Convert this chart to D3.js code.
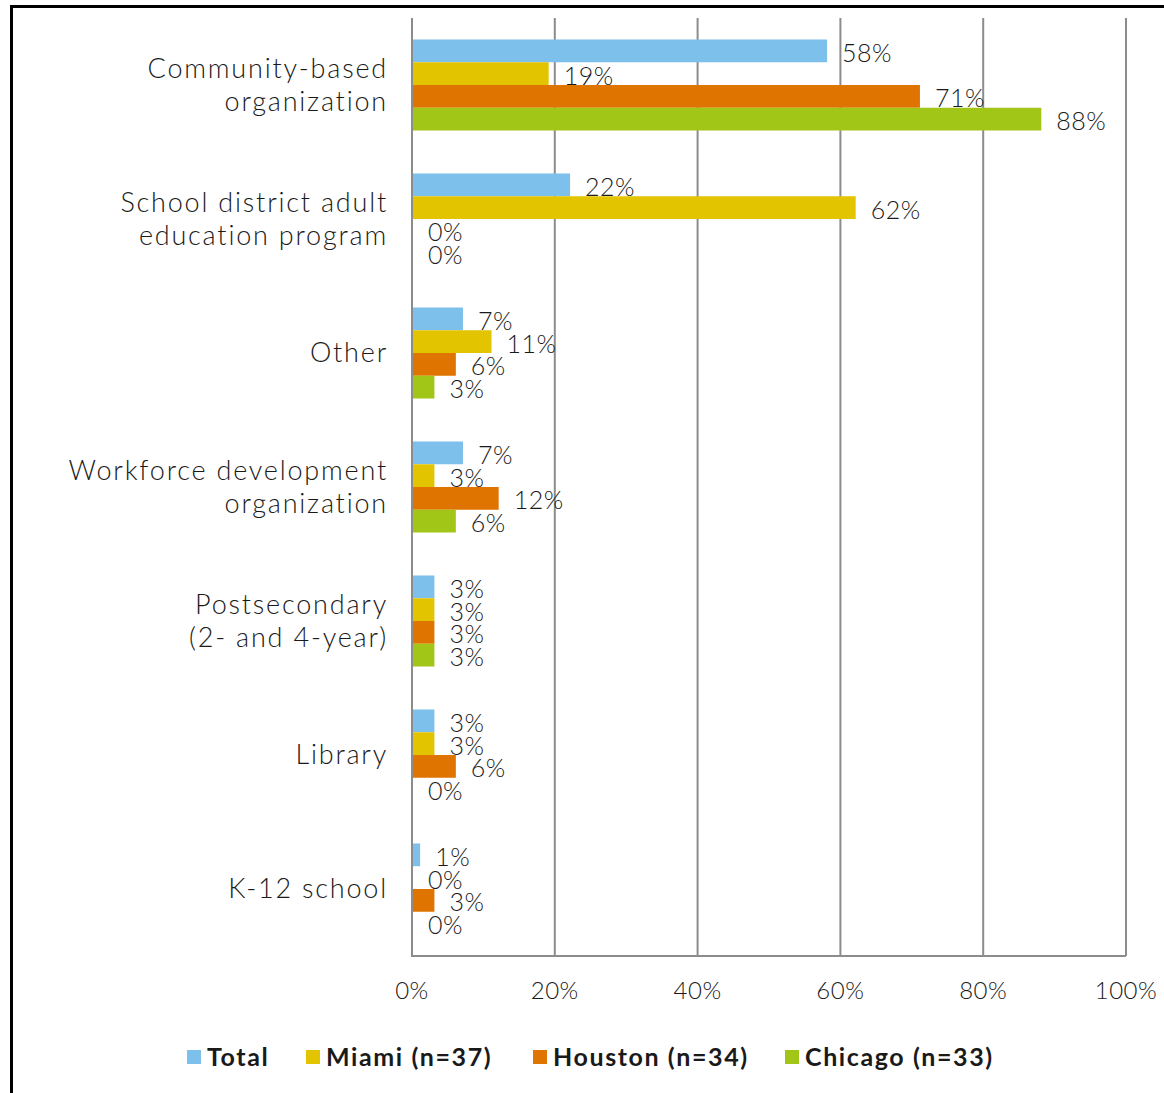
<!DOCTYPE html>
<html>
<head>
<meta charset="utf-8">
<script src="https://cdn.jsdelivr.net/npm/d3@7/dist/d3.min.js"></script>
<style>
  html, body { margin: 0; padding: 0; background: #fff; }
  svg { display: block; }
  text { font-family: "Lato", "DejaVu Sans", sans-serif; fill: #1a1a1a; }
</style>
</head>
<body>
<svg id="chart" width="1164" height="1093"></svg>
<script>
// Provider types (top to bottom)
const categories = [
  ["Community-based", "organization"],
  ["School district adult", "education program"],
  ["Other"],
  ["Workforce development", "organization"],
  ["Postsecondary", "(2- and 4-year)"],
  ["Library"],
  ["K-12 school"]
];
const seriesNames = ["Total", "Miami (n=37)", "Houston (n=34)", "Chicago (n=33)"];
const seriesColors = ["#7dc0ec", "#e3c400", "#e07400", "#a2c617"];
// Percent of respondents, one array per series, in category order
const totalValues   = [58, 22, 7, 7, 3, 3, 1];
const miamiValues   = [19, 62, 11, 3, 3, 3, 0];
const houstonValues = [71, 0, 6, 12, 3, 6, 3];
const chicagoValues = [88, 0, 3, 6, 3, 0, 0];
const seriesValues = [totalValues, miamiValues, houstonValues, chicagoValues];
const xTicks = [0, 20, 40, 60, 80, 100];

const svg = d3.select("#chart");

// Outer frame (top and left edges)
svg.append("path")
  .attr("d", "M11.5,1093 L11.5,6.5 L1164,6.5")
  .attr("fill", "none").attr("stroke", "#000").attr("stroke-width", 3);

const x0 = 412, x1 = 1126, yTop = 18, yBot = 956;
const x = d3.scaleLinear().domain([0, 100]).range([x0, x1]);
const y = d3.scaleBand().domain(d3.range(categories.length)).range([yTop, yBot]);
const groupPad = 21.5;
const inner = d3.scaleBand().domain(d3.range(seriesNames.length))
  .range([groupPad, y.bandwidth() - groupPad]);

// Vertical gridlines
svg.append("g").selectAll("line").data(xTicks.slice(1)).join("line")
  .attr("x1", d => x(d)).attr("x2", d => x(d))
  .attr("y1", yTop).attr("y2", yBot)
  .attr("stroke", "#8c8c8c").attr("stroke-width", 2);

// Bars and value labels, drawn series by series
seriesValues.forEach((vals, s) => {
  const g = svg.append("g");
  g.selectAll("rect").data(vals).join("rect")
    .attr("x", x(0) + 1)
    .attr("y", (d, i) => y(i) + inner(s))
    .attr("width", d => Math.max(0, x(d) - x(0)))
    .attr("height", inner.bandwidth())
    .attr("fill", seriesColors[s]);
  g.selectAll("text").data(vals).join("text")
    .attr("x", d => x(d) + 16)
    .attr("y", (d, i) => y(i) + inner(s) + inner.bandwidth() / 2 + 11)
    .attr("font-size", 25)
    .attr("font-weight", 300)
    .attr("letter-spacing", 0.5)
    .text(d => d + "%");
});

// Axis lines: left baseline and bottom
svg.append("path")
  .attr("d", `M${x0},${yTop} L${x0},${yBot} L${x1},${yBot}`)
  .attr("fill", "none").attr("stroke", "#8c8c8c").attr("stroke-width", 2);

// X tick labels
svg.append("g").selectAll("text").data(xTicks).join("text")
  .attr("x", d => x(d)).attr("y", 999)
  .attr("text-anchor", "middle").attr("font-size", 24)
  .attr("font-weight", 300).attr("letter-spacing", 0.5)
  .text(d => d + "%");

// Category labels
svg.append("g").selectAll("text").data(categories).join("text")
  .attr("text-anchor", "end")
  .attr("font-size", 27)
  .attr("font-weight", 300)
  .attr("letter-spacing", 1.8)
  .attr("transform", (d, i) => `translate(388,${y(i) + y.bandwidth() / 2})`)
  .each(function(lines) {
    const t = d3.select(this);
    const lh = 33;
    lines.forEach((ln, k) => {
      t.append("tspan").attr("x", 0)
        .attr("y", (k - (lines.length - 1) / 2) * lh + 9)
        .text(ln);
    });
  });

// Legend
const legendX = [187, 306, 533, 785];
const lg = svg.append("g");
seriesNames.forEach((n, s) => {
  lg.append("rect").attr("x", legendX[s]).attr("y", 1050).attr("width", 14).attr("height", 14)
    .attr("fill", seriesColors[s]);
  lg.append("text").attr("x", legendX[s] + 20).attr("y", 1066)
    .attr("font-size", 25).attr("font-weight", "bold")
    .attr("letter-spacing", 1.6).text(n);
});
</script>
</body>
</html>
